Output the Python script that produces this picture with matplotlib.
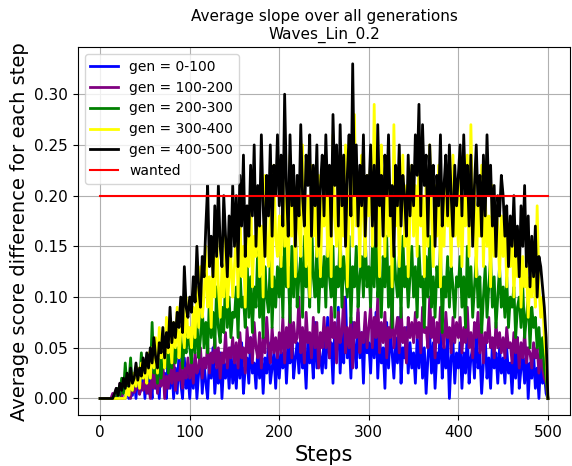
import numpy as np
import matplotlib
matplotlib.use("Agg")
import matplotlib.pyplot as plt

steps = np.arange(0, 501, 2)

gen_0_100 = [0, 0, 0, 0, 0, 0, 0, 0, 0, 0, 0, 0, 0, 0, 0, 0.01, 0.0, 0.015, 0.003, 0.02, 0.0, 0.025, 0.005, 0.01, 0.03,
             0.0, 0.035, 0.005, 0.02, 0.0, 0.045, 0.01, 0.03, 0.0, 0.04, 0.015, 0.025, 0.0, 0.05, 0.01, 0.035, 0.0, 0.03, 0.005, 0.045, 0.015, 0.0, 0.04, 0.01, 0.025,
             0.0, 0.03, 0.01, 0.04, 0.0, 0.025, 0.045, 0.005, 0.035, 0.015, 0.0, 0.04, 0.02, 0.05, 0.005, 0.03, 0.015, 0.045, 0.0, 0.035, 0.02, 0.04, 0.01, 0.05, 0.015,
             0.035, 0.01, 0.045, 0.02, 0.055, 0.005, 0.03, 0.04, 0.015, 0.06, 0.025, 0.035, 0.01, 0.05, 0.02, 0.045, 0.005, 0.04, 0.025, 0.055, 0.015, 0.03, 0.045, 0.01, 0.05,
             0.02, 0.045, 0.03, 0.06, 0.015, 0.05, 0.035, 0.07, 0.02, 0.04, 0.055, 0.025, 0.065, 0.03, 0.045, 0.01, 0.06, 0.035, 0.05, 0.02, 0.075, 0.03, 0.055, 0.04, 0.025,
             0.06, 0.03, 0.08, 0.04, 0.055, 0.015, 0.07, 0.045, 0.09, 0.025, 0.065, 0.035, 0.1, 0.04, 0.06, 0.02, 0.075, 0.05, 0.03, 0.085, 0.04, 0.065, 0.015, 0.07, 0.045,
             0.055, 0.025, 0.07, 0.04, 0.085, 0.02, 0.06, 0.035, 0.05, 0.01, 0.075, 0.03, 0.065, 0.045, 0.02, 0.06, 0.035, 0.08, 0.015, 0.05, 0.04, 0.07, 0.025, 0.055, 0.03,
             0.045, 0.015, 0.06, 0.03, 0.07, 0.02, 0.05, 0.005, 0.04, 0.065, 0.025, 0.055, 0.01, 0.045, 0.035, 0.075, 0.02, 0.05, 0.03, 0.06, 0.0, 0.04, 0.055, 0.015, 0.045,
             0.03, 0.055, 0.01, 0.045, 0.025, 0.065, 0.015, 0.04, 0.05, 0.02, 0.07, 0.03, 0.045, 0.005, 0.035, 0.06, 0.02, 0.04, 0.01, 0.055, 0.03, 0.045, 0.015, 0.05, 0.025,
             0.04, 0.015, 0.05, 0.025, 0.035, 0.005, 0.045, 0.02, 0.06, 0.01, 0.03, 0.04, 0.015, 0.05, 0.0, 0.035, 0.02, 0.045, 0.01, 0.03, 0.0, 0.04, 0.015, 0.025, 0.005,
             0.0]

gen_100_200 = [0, 0, 0, 0, 0, 0, 0, 0.005, 0.0, 0.01, 0.003, 0.015, 0.0, 0.008, 0.02, 0.005, 0.012, 0.0, 0.018, 0.006, 0.01, 0.025, 0.004, 0.015, 0.008,
               0.02, 0.005, 0.015, 0.0, 0.025, 0.01, 0.03, 0.005, 0.02, 0.012, 0.035, 0.0, 0.022, 0.01, 0.03, 0.015, 0.04, 0.008, 0.025, 0.018, 0.035, 0.01, 0.03, 0.02, 0.04,
               0.02, 0.035, 0.015, 0.045, 0.025, 0.03, 0.05, 0.02, 0.04, 0.03, 0.055, 0.025, 0.045, 0.035, 0.06, 0.03, 0.05, 0.02, 0.045, 0.035, 0.065, 0.03, 0.05, 0.04, 0.06,
               0.035, 0.055, 0.03, 0.065, 0.04, 0.05, 0.025, 0.07, 0.045, 0.06, 0.035, 0.075, 0.05, 0.04, 0.065, 0.03, 0.06, 0.045, 0.08, 0.05, 0.035, 0.07, 0.045, 0.06, 0.04,
               0.065, 0.045, 0.08, 0.035, 0.07, 0.05, 0.09, 0.04, 0.075, 0.055, 0.06, 0.1, 0.045, 0.07, 0.035, 0.085, 0.055, 0.065, 0.04, 0.08, 0.05, 0.075, 0.03, 0.065, 0.05,
               0.08, 0.05, 0.07, 0.04, 0.09, 0.06, 0.075, 0.035, 0.085, 0.055, 0.065, 0.1, 0.045, 0.07, 0.05, 0.08, 0.03, 0.075, 0.06, 0.09, 0.045, 0.065, 0.055, 0.085, 0.05,
               0.07, 0.09, 0.05, 0.08, 0.06, 0.1, 0.045, 0.075, 0.055, 0.085, 0.04, 0.07, 0.06, 0.095, 0.05, 0.065, 0.08, 0.045, 0.09, 0.055, 0.07, 0.035, 0.08, 0.06, 0.075,
               0.055, 0.085, 0.06, 0.075, 0.045, 0.09, 0.065, 0.07, 0.05, 0.1, 0.06, 0.08, 0.04, 0.075, 0.055, 0.09, 0.065, 0.05, 0.085, 0.06, 0.07, 0.045, 0.08, 0.055, 0.075,
               0.06, 0.08, 0.045, 0.07, 0.055, 0.09, 0.05, 0.065, 0.04, 0.075, 0.06, 0.085, 0.045, 0.07, 0.035, 0.065, 0.055, 0.08, 0.05, 0.06, 0.04, 0.075, 0.05, 0.065, 0.045,
               0.06, 0.04, 0.07, 0.05, 0.055, 0.035, 0.065, 0.045, 0.06, 0.03, 0.055, 0.04, 0.065, 0.035, 0.05, 0.045, 0.03, 0.055, 0.04, 0.05, 0.025, 0.045, 0.03, 0.02, 0.015,
               0.0]

gen_200_300 = [0, 0, 0, 0, 0, 0, 0, 0, 0, 0, 0.01, 0.003, 0.02, 0.005, 0.035, 0.01, 0.015, 0.04, 0.008, 0.025, 0.012, 0.03, 0.015, 0.045, 0.02,
               0.03, 0.015, 0.04, 0.02, 0.075, 0.025, 0.035, 0.015, 0.05, 0.02, 0.04, 0.03, 0.055, 0.025, 0.045, 0.03, 0.06, 0.035, 0.05, 0.04, 0.065, 0.03, 0.055, 0.045, 0.07,
               0.05, 0.035, 0.07, 0.045, 0.08, 0.04, 0.06, 0.09, 0.05, 0.075, 0.045, 0.1, 0.06, 0.085, 0.05, 0.11, 0.07, 0.055, 0.09, 0.065, 0.12, 0.07, 0.1, 0.06, 0.085,
               0.08, 0.11, 0.06, 0.13, 0.09, 0.1, 0.07, 0.14, 0.08, 0.12, 0.065, 0.11, 0.09, 0.15, 0.08, 0.12, 0.06, 0.13, 0.1, 0.085, 0.14, 0.07, 0.12, 0.09, 0.13,
               0.1, 0.14, 0.08, 0.16, 0.11, 0.13, 0.075, 0.15, 0.1, 0.17, 0.09, 0.12, 0.14, 0.08, 0.16, 0.11, 0.13, 0.09, 0.18, 0.12, 0.1, 0.15, 0.085, 0.13, 0.11,
               0.14, 0.09, 0.16, 0.12, 0.1, 0.15, 0.08, 0.13, 0.11, 0.17, 0.09, 0.14, 0.12, 0.1, 0.16, 0.075, 0.13, 0.11, 0.15, 0.09, 0.12, 0.14, 0.1, 0.16, 0.11,
               0.13, 0.09, 0.15, 0.11, 0.17, 0.1, 0.12, 0.08, 0.14, 0.11, 0.16, 0.09, 0.13, 0.07, 0.15, 0.12, 0.1, 0.14, 0.08, 0.16, 0.11, 0.13, 0.09, 0.12, 0.15,
               0.1, 0.13, 0.08, 0.15, 0.11, 0.12, 0.07, 0.14, 0.1, 0.16, 0.09, 0.12, 0.08, 0.13, 0.11, 0.15, 0.065, 0.12, 0.1, 0.14, 0.09, 0.13, 0.11, 0.08, 0.12,
               0.11, 0.14, 0.09, 0.12, 0.07, 0.15, 0.1, 0.13, 0.08, 0.11, 0.14, 0.09, 0.12, 0.065, 0.1, 0.13, 0.08, 0.11, 0.14, 0.09, 0.12, 0.07, 0.1, 0.13, 0.09,
               0.11, 0.08, 0.12, 0.07, 0.1, 0.09, 0.11, 0.06, 0.09, 0.1, 0.07, 0.11, 0.06, 0.08, 0.1, 0.05, 0.09, 0.07, 0.08, 0.05, 0.07, 0.04, 0.06, 0.03, 0.02,
               0.0]

gen_300_400 = [0, 0, 0, 0, 0, 0, 0, 0, 0, 0, 0, 0, 0, 0, 0, 0.01, 0.003, 0.02, 0.008, 0.025, 0.012, 0.03, 0.01, 0.035, 0.02,
               0.03, 0.015, 0.045, 0.02, 0.05, 0.03, 0.06, 0.025, 0.07, 0.04, 0.055, 0.03, 0.08, 0.045, 0.06, 0.035, 0.075, 0.05, 0.09, 0.04, 0.065, 0.08, 0.05, 0.1, 0.06,
               0.07, 0.05, 0.09, 0.06, 0.11, 0.07, 0.13, 0.08, 0.1, 0.15, 0.09, 0.12, 0.07, 0.14, 0.1, 0.17, 0.11, 0.08, 0.13, 0.1, 0.16, 0.09, 0.12, 0.14, 0.1,
               0.13, 0.17, 0.1, 0.19, 0.12, 0.15, 0.09, 0.18, 0.13, 0.21, 0.11, 0.16, 0.14, 0.2, 0.12, 0.17, 0.1, 0.22, 0.15, 0.13, 0.19, 0.11, 0.23, 0.16, 0.14,
               0.18, 0.13, 0.22, 0.15, 0.2, 0.11, 0.24, 0.16, 0.19, 0.12, 0.21, 0.17, 0.14, 0.25, 0.18, 0.13, 0.2, 0.1, 0.23, 0.16, 0.19, 0.14, 0.22, 0.12, 0.2,
               0.17, 0.23, 0.14, 0.21, 0.12, 0.26, 0.18, 0.15, 0.22, 0.13, 0.2, 0.16, 0.25, 0.11, 0.19, 0.23, 0.15, 0.28, 0.17, 0.21, 0.13, 0.24, 0.18, 0.14, 0.22,
               0.18, 0.24, 0.15, 0.29, 0.17, 0.21, 0.12, 0.25, 0.19, 0.14, 0.23, 0.16, 0.2, 0.11, 0.27, 0.17, 0.22, 0.13, 0.19, 0.24, 0.15, 0.21, 0.12, 0.18, 0.23,
               0.16, 0.21, 0.14, 0.24, 0.17, 0.2, 0.12, 0.22, 0.15, 0.25, 0.18, 0.13, 0.21, 0.16, 0.23, 0.11, 0.19, 0.15, 0.22, 0.17, 0.2, 0.13, 0.24, 0.16, 0.19,
               0.15, 0.22, 0.13, 0.2, 0.17, 0.24, 0.14, 0.27, 0.18, 0.21, 0.12, 0.19, 0.16, 0.23, 0.13, 0.2, 0.15, 0.18, 0.11, 0.21, 0.14, 0.19, 0.17, 0.12, 0.18,
               0.14, 0.18, 0.11, 0.16, 0.13, 0.17, 0.1, 0.15, 0.12, 0.16, 0.09, 0.14, 0.11, 0.13, 0.08, 0.12, 0.1, 0.14, 0.09, 0.19, 0.11, 0.08, 0.1, 0.06, 0.04,
               0.0]

gen_400_500 = [0, 0, 0, 0, 0, 0, 0, 0, 0.005, 0.01, 0.003, 0.015, 0.008, 0.02, 0.01, 0.025, 0.012, 0.03, 0.015, 0.02, 0.035, 0.018, 0.03, 0.022, 0.04,
               0.025, 0.045, 0.03, 0.05, 0.035, 0.06, 0.04, 0.03, 0.055, 0.045, 0.07, 0.04, 0.065, 0.05, 0.09, 0.055, 0.075, 0.06, 0.085, 0.07, 0.1, 0.065, 0.13, 0.09, 0.08,
               0.1, 0.085, 0.12, 0.095, 0.15, 0.11, 0.09, 0.14, 0.12, 0.17, 0.21, 0.13, 0.16, 0.12, 0.19, 0.14, 0.21, 0.15, 0.13, 0.2, 0.16, 0.12, 0.18, 0.14, 0.21,
               0.15, 0.2, 0.13, 0.22, 0.17, 0.24, 0.14, 0.19, 0.16, 0.23, 0.18, 0.25, 0.15, 0.21, 0.17, 0.26, 0.19, 0.14, 0.22, 0.18, 0.25, 0.16, 0.23, 0.2, 0.26,
               0.19, 0.24, 0.17, 0.3, 0.21, 0.16, 0.26, 0.19, 0.23, 0.15, 0.22, 0.18, 0.27, 0.2, 0.17, 0.24, 0.21, 0.26, 0.16, 0.23, 0.19, 0.25, 0.15, 0.21, 0.24,
               0.18, 0.26, 0.2, 0.23, 0.16, 0.28, 0.21, 0.25, 0.17, 0.27, 0.19, 0.24, 0.15, 0.22, 0.26, 0.18, 0.33, 0.2, 0.25, 0.17, 0.23, 0.19, 0.26, 0.16, 0.22,
               0.2, 0.25, 0.17, 0.23, 0.15, 0.27, 0.19, 0.22, 0.16, 0.24, 0.2, 0.26, 0.18, 0.21, 0.14, 0.23, 0.19, 0.25, 0.17, 0.22, 0.2, 0.16, 0.24, 0.18, 0.23,
               0.19, 0.26, 0.22, 0.29, 0.18, 0.27, 0.21, 0.24, 0.16, 0.25, 0.2, 0.23, 0.15, 0.22, 0.19, 0.26, 0.17, 0.21, 0.24, 0.18, 0.25, 0.2, 0.16, 0.23, 0.19,
               0.22, 0.25, 0.18, 0.26, 0.2, 0.23, 0.17, 0.24, 0.15, 0.21, 0.25, 0.19, 0.22, 0.16, 0.24, 0.18, 0.26, 0.2, 0.23, 0.17, 0.21, 0.14, 0.2, 0.18, 0.22,
               0.2, 0.16, 0.19, 0.13, 0.18, 0.15, 0.2, 0.14, 0.17, 0.12, 0.19, 0.15, 0.21, 0.13, 0.18, 0.11, 0.16, 0.12, 0.17, 0.1, 0.14, 0.13, 0.11, 0.09, 0.06,
               0.0]

wanted = 0.2

series = [("gen = 0-100", gen_0_100, "blue"),
          ("gen = 100-200", gen_100_200, "purple"),
          ("gen = 200-300", gen_200_300, "green"),
          ("gen = 300-400", gen_300_400, "yellow"),
          ("gen = 400-500", gen_400_500, "black")]

fig, ax = plt.subplots(figsize=(5.72, 4.66), dpi=100)
for label, vals, col in series:
    assert len(vals) == len(steps), label
    ax.plot(steps, vals, color=col, lw=2, label=label)
ax.plot([steps[0], steps[-1]], [wanted, wanted], color="red", lw=1.5, label="wanted")

ax.set_title("Average slope over all generations\nWaves_Lin_0.2", fontsize=11)
ax.set_xlabel("Steps", fontsize=15)
ax.set_ylabel("Average score difference for each step", fontsize=14)
ax.set_yticks(np.arange(0, 0.31, 0.05))
ax.tick_params(labelsize=11)
ax.grid(True, color="#b0b0b0", lw=0.8)
ax.legend(loc="upper left", fontsize=10)

fig.subplots_adjust(left=0.136, right=0.997, top=0.899, bottom=0.109)
fig.savefig("out.png")
